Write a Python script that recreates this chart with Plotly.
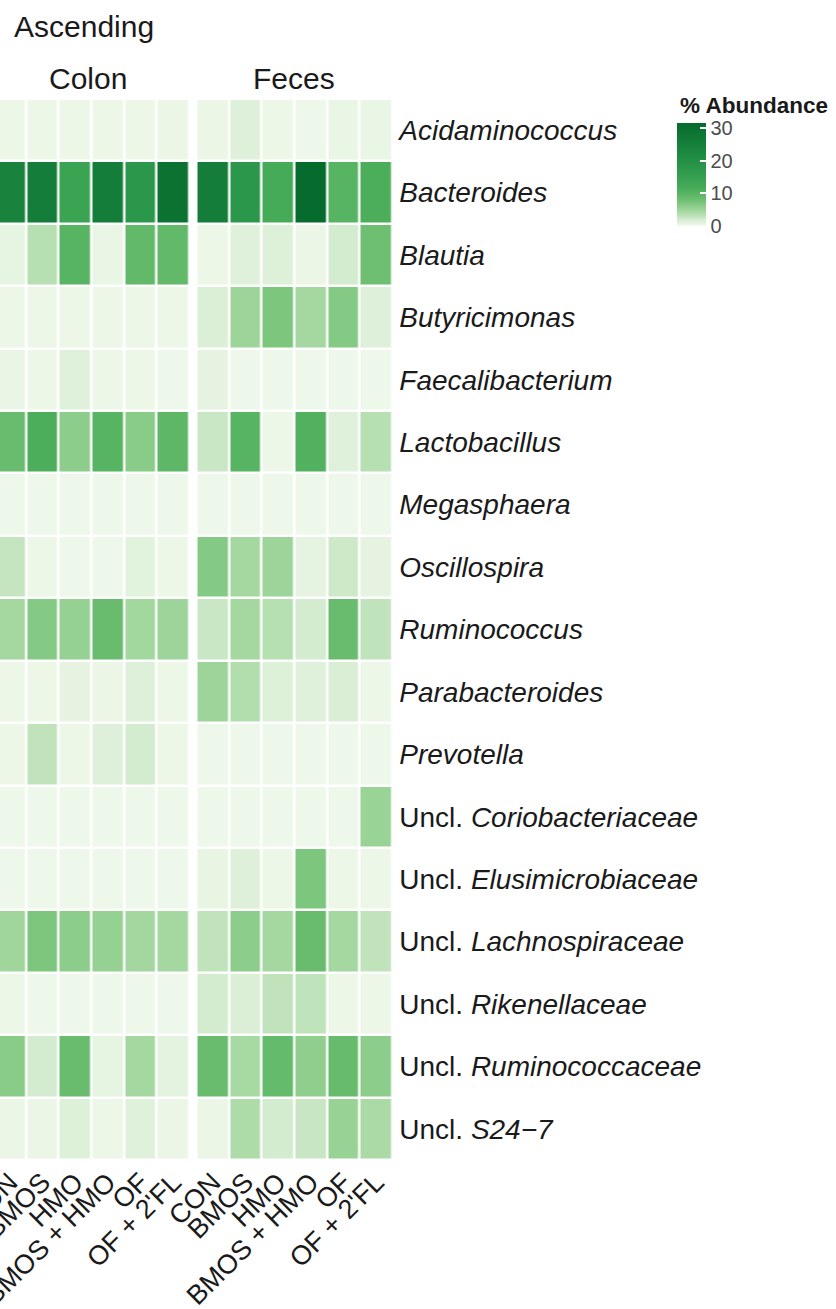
import plotly.graph_objects as go

W, H = 836, 1309

groups = ["CON", "BMOS", "HMO", "BMOS + HMO", "OF", "OF + 2'FL"]
genera = ["<i>Acidaminococcus</i>", "<i>Bacteroides</i>", "<i>Blautia</i>",
          "<i>Butyricimonas</i>", "<i>Faecalibacterium</i>", "<i>Lactobacillus</i>",
          "<i>Megasphaera</i>", "<i>Oscillospira</i>", "<i>Ruminococcus</i>",
          "<i>Parabacteroides</i>", "<i>Prevotella</i>",
          "Uncl. <i>Coriobacteriaceae</i>", "Uncl. <i>Elusimicrobiaceae</i>",
          "Uncl. <i>Lachnospiraceae</i>", "Uncl. <i>Rikenellaceae</i>",
          "Uncl. <i>Ruminococcaceae</i>", "Uncl. <i>S24\u22127</i>"]

# % abundance per treatment column (rows follow `genera`)
colon_CON      = [0.4, 24, 0.8, 0.4, 0.6, 8.5, 0.3, 2.8, 4.5, 0.4, 0.4, 0.3, 0.3, 4.8, 0.4, 6.2, 0.5]
colon_BMOS     = [0.4, 26, 3.5, 0.4, 0.4, 11, 0.3, 0.4, 6.5, 0.4, 3.0, 0.3, 0.3, 7.0, 0.3, 2.0, 0.5]
colon_HMO      = [0.4, 14, 10, 0.4, 1.2, 6.0, 0.3, 0.3, 5.5, 0.9, 0.4, 0.3, 0.3, 6.0, 0.3, 8.5, 1.4]
colon_BMOS_HMO = [0.4, 26, 0.6, 0.4, 0.4, 10, 0.3, 0.3, 8.5, 0.5, 1.3, 0.3, 0.3, 5.5, 0.3, 0.8, 0.4]
colon_OF       = [0.4, 18, 9.0, 0.4, 0.4, 6.2, 0.3, 1.1, 4.7, 1.3, 2.0, 0.3, 0.3, 4.6, 0.3, 4.5, 1.2]
colon_OF_2FL   = [0.5, 29, 9.0, 0.4, 0.3, 9.5, 0.3, 0.4, 5.0, 0.4, 0.4, 0.3, 0.3, 4.5, 0.3, 1.0, 0.5]

feces_CON      = [0.5, 26, 0.4, 1.5, 0.9, 2.5, 0.3, 6.5, 2.5, 5.0, 0.3, 0.3, 0.7, 3.0, 2.0, 8.5, 0.5]
feces_BMOS     = [1.3, 18, 1.2, 5.0, 0.3, 10, 0.3, 4.5, 4.5, 3.8, 0.3, 0.3, 1.3, 6.0, 1.5, 4.4, 4.0]
feces_HMO      = [0.4, 12, 1.4, 7.0, 0.3, 0.4, 0.3, 5.0, 3.5, 1.4, 0.3, 0.3, 0.4, 4.5, 3.0, 8.8, 2.0]
feces_BMOS_HMO = [0.3, 31, 0.5, 4.5, 0.3, 10.5, 0.3, 0.9, 2.0, 1.2, 0.3, 0.3, 7.0, 8.5, 3.1, 5.8, 2.6]
feces_OF       = [0.6, 10, 2.0, 6.5, 0.3, 1.2, 0.3, 2.3, 8.5, 1.6, 0.3, 0.3, 0.4, 4.5, 0.4, 8.7, 5.3]
feces_OF_2FL   = [0.6, 11, 8.0, 1.3, 0.3, 3.5, 0.3, 0.9, 3.0, 0.4, 0.3, 5.2, 0.4, 3.0, 0.4, 6.0, 4.2]

colon_cols = [colon_CON, colon_BMOS, colon_HMO, colon_BMOS_HMO, colon_OF, colon_OF_2FL]
feces_cols = [feces_CON, feces_BMOS, feces_HMO, feces_BMOS_HMO, feces_OF, feces_OF_2FL]

colon_z = [[col[i] for col in colon_cols] for i in range(len(genera))]
feces_z = [[col[i] for col in feces_cols] for i in range(len(genera))]

ZMAX = 31.5
cscale = [
    [0.0, "#F3FAEF"],
    [2 / ZMAX, "#D3EBCE"],
    [4.5 / ZMAX, "#A5D8A0"],
    [7.5 / ZMAX, "#74C276"],
    [11 / ZMAX, "#4CAE5B"],
    [15 / ZMAX, "#35A050"],
    [22 / ZMAX, "#1E8A42"],
    [1.0, "#056A2C"],
]

FONT = "Liberation Sans, Arial, sans-serif"
TXT = "#1A1A1A"

def px(x):
    return x / W

def py(y):
    return 1 - y / H

xs = list(range(len(groups)))
ys = list(range(len(genera)))

fig = go.Figure()
fig.add_trace(go.Heatmap(
    z=colon_z, x=xs, y=ys, xaxis="x", yaxis="y",
    colorscale=cscale, zmin=0, zmax=ZMAX, showscale=False,
    xgap=2.5, ygap=2.5, hoverinfo="z"))
fig.add_trace(go.Heatmap(
    z=feces_z, x=xs, y=ys, xaxis="x2", yaxis="y2",
    colorscale=cscale, zmin=0, zmax=ZMAX, showscale=True,
    xgap=2.5, ygap=2.5, hoverinfo="z",
    colorbar=dict(
        x=px(677), xanchor="left", y=py(123), yanchor="top",
        lenmode="pixels", len=103, thickness=29, thicknessmode="pixels",
        xpad=0, ypad=0, outlinewidth=0,
        tickvals=[0, 10, 20, 30], ticks="inside", tickcolor="white",
        ticklen=6, tickwidth=1.5,
        tickfont=dict(family=FONT, size=20, color="#4D4D4D"),
    )))

ydom = [py(1160), py(99)]
axis_common = dict(showgrid=False, zeroline=False, showline=False, ticks="",
                   automargin=False)
xtick_font = dict(family=FONT, size=27, color=TXT)

fig.update_layout(
    width=W, height=H,
    margin=dict(l=0, r=0, t=0, b=0),
    paper_bgcolor="white", plot_bgcolor="white",
    template="none",
    font=dict(family=FONT, color=TXT),
    xaxis=dict(domain=[0, px(189.6)], range=[-0.3, 5.5], anchor="y",
               tickvals=xs, ticktext=groups, tickangle=-45,
               ticklabeloverflow="allow", tickfont=xtick_font,
               **axis_common),
    xaxis2=dict(domain=[px(196.5), px(392.3)], range=[-0.5, 5.5], anchor="y2",
                tickvals=xs, ticktext=groups, tickangle=-45,
                ticklabeloverflow="allow", tickfont=xtick_font,
                **axis_common),
    yaxis=dict(domain=ydom, range=[16.5, -0.5], anchor="x",
               showticklabels=False, **axis_common),
    yaxis2=dict(domain=ydom, range=[16.5, -0.5], anchor="x2", side="right",
                tickvals=ys, ticktext=genera, ticklabelstandoff=6,
                ticklabeloverflow="allow",
                tickfont=dict(family=FONT, size=28, color=TXT),
                **axis_common),
)

fig.add_annotation(text="Ascending", xref="paper", yref="paper",
                   x=px(12), y=py(27), xanchor="left", yanchor="middle",
                   showarrow=False, font=dict(family=FONT, size=30, color=TXT))
fig.add_annotation(text="Colon", xref="x", yref="paper",
                   x=2.4, y=py(78), xanchor="center", yanchor="middle",
                   showarrow=False, font=dict(family=FONT, size=30, color=TXT))
fig.add_annotation(text="Feces", xref="x2", yref="paper",
                   x=2.5, y=py(78), xanchor="center", yanchor="middle",
                   showarrow=False, font=dict(family=FONT, size=30, color=TXT))
fig.add_annotation(text="<b>% Abundance</b>", xref="paper", yref="paper",
                   x=px(678), y=py(106), xanchor="left", yanchor="middle",
                   showarrow=False, font=dict(family=FONT, size=22.5, color=TXT))

fig.write_html("out.html", config={"displayModeBar": False},
               post_script="document.body.style.margin='0';")
